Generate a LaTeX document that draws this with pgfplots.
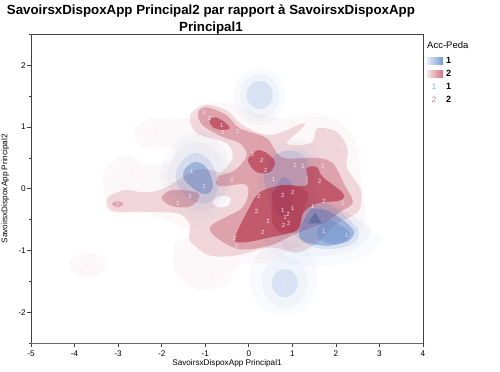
\documentclass[border=0pt]{standalone}
\usepackage{fontspec}
\setmainfont{Liberation Sans}
\usepackage{pgfplots}
\pgfplotsset{compat=1.18}
\usetikzlibrary{plotmarks}
\definecolor{rd}{HTML}{B02A40}
\definecolor{bl}{HTML}{2A62B8}
\definecolor{lab}{HTML}{F6E4E7}
\definecolor{axc}{HTML}{404040}
\pgfplotsset{
 r1/.style={smooth cycle,tension=.55,draw=none,fill=rd,fill opacity=.04,mark=none},
 r2/.style={smooth cycle,tension=.55,draw=none,fill=rd,fill opacity=.16,mark=none},
 r3/.style={smooth cycle,tension=.55,draw=none,fill=rd,fill opacity=.3,mark=none},
 r4/.style={smooth cycle,tension=.55,draw=none,fill=rd,fill opacity=.6,mark=none},
 r5/.style={smooth cycle,tension=.55,draw=none,fill=rd,fill opacity=.35,mark=none},
 b1/.style={smooth cycle,tension=.7,draw=none,fill=bl,fill opacity=.03,mark=none},
 b2/.style={smooth cycle,tension=.7,draw=none,fill=bl,fill opacity=.04,mark=none},
 b3/.style={smooth cycle,tension=.7,draw=none,fill=bl,fill opacity=.12,mark=none},
 b4/.style={smooth cycle,tension=.7,draw=none,fill=bl,fill opacity=.33,mark=none},
 b5/.style={smooth cycle,tension=.7,draw=none,fill=bl,fill opacity=.2,mark=none},
}
\begin{document}
\begin{tikzpicture}[x=1bp,y=1bp]
\path[use as bounding box] (-31,-28) rectangle (469,343);
\begin{axis}[
 at={(0,0)},anchor=south west,scale only axis,width=392bp,height=308.5bp,
 xmin=-5,xmax=4,ymin=-2.5,ymax=2.5,
 axis line style={color=axc,line width=.7pt},
 tick style={color=axc,line width=.6pt},
 tick align=outside,xtick pos=bottom,ytick pos=left,
 major tick length=4bp,minor tick length=2.5bp,
 xtick={-5,-4,-3,-2,-1,0,1,2,3,4},xticklabels={-5,-4,-3,-2,-1,0,1,2,3,4},
 ytick={-2,-1,0,1,2},yticklabels={-2,-1,0,1,2},
 minor ytick={-2.5,-1.5,-.5,.5,1.5,2.5},
 ticklabel style={font=\fontsize{8.2bp}{9bp}\selectfont,inner sep=1bp},
 xticklabel style={yshift=-2.5bp},
 xlabel={SavoirsxDispoxApp Principal1},ylabel={SavoirsxDispoxApp Principal2},
 label style={font=\fontsize{8.2bp}{9bp}\selectfont},
 xlabel style={yshift=1bp},ylabel style={yshift=5bp},
 title style={align=center,font=\bfseries\fontsize{13.3bp}{17bp}\selectfont,at={(0.459,1)},yshift=-9.5bp},
 title={SavoirsxDispoxApp Principal2 par rapport à SavoirsxDispoxApp\\Principal1},
]
% red density levels
\addplot[r1] coordinates {(-1.19,1.14)(-1.01,1.36)(-.48,1.39)(.14,1.23)(.83,1.14)(1.52,1.23)(2.2,1.03)(2.5,.62)(2.6,-.02)(2.66,-.51)(2.2,-.84)(1.52,-.84)(.94,-1.0)(.44,-1.19)(-.21,-1.24)(-.55,-1.57)(-1.24,-1.62)(-1.7,-1.32)(-1.7,-.92)(-1.35,-.71)(-1.93,-.51)(-2.5,-.35)(-3,-.43)(-3.3,-.1)(-3.3,.3)(-2.85,.54)(-2.27,.38)(-1.81,.46)(-1.7,.62)(-1.93,.66)(-2.5,.7)(-2.62,.95)(-2.27,1.14)(-1.7,1.14)};
\addplot[r1] coordinates {(-3.26,-1.24)(-3.39,-1.1)(-3.7,-1.04)(-4.01,-1.1)(-4.14,-1.24)(-4.01,-1.38)(-3.7,-1.44)(-3.39,-1.38)};
\addplot[r2] coordinates {(-1.35,1.19)(-1.01,1.36)(-.51,1.27)(-.14,1.03)(.48,.87)(1.24,1.06)(1.22,.98)(.87,.75)(1.06,.71)(1.45,.75)(1.58,.98)(2.02,.92)(2.27,.65)(2.25,.35)(2.55,.02)(2.59,-.14)(2.5,-.38)(1.97,-.59)(1.56,-.88)(1.1,-1.03)(.48,-.95)(-.28,-1.08)(-.9,-1.08)(-1.35,-.84)(-1.35,-.59)(-1.58,-.41)(-2.04,-.38)(-2.62,-.38)(-3.19,-.35)(-3.24,-.15)(-2.85,-.02)(-2.39,-.06)(-1.93,.01)(-1.24,.3)(-.85,.3)(-.62,.27)(-.37,.51)(-.51,.74)(-1.19,.9)};
\addplot[r3] coordinates {(-1.17,1.24)(-.96,1.32)(-.51,1.19)(-.21,.98)(.41,.82)(.76,.51)(1.56,.5)(1.93,.41)(2.2,.06)(2.39,-.22)(2.09,-.38)(1.75,-.54)(1.1,-.72)(.48,-.92)(-.28,-.97)(-.9,-.64)(-.14,-.3)(-.05,.06)(-.67,.04)(-.73,.19)(-.32,.3)(-.05,.54)(-.21,.74)(-.6,.84)(-1.06,1.03)};
\addplot[r3] coordinates {(-2,-.14)(-1.75,-.02)(-1.19,-.06)(-1.17,-.19)(-1.42,-.3)(-1.81,-.27)};
\addplot[r3] coordinates {(-2.88,-.25)(-3.01,-.2)(-3.14,-.25)(-3.01,-.3)};
% hole
\addplot[smooth cycle,draw=none,fill=white,fill opacity=.85,mark=none] coordinates {(-.83,-.22)(-.7,-.13)(-.5,-.12)(-.41,-.18)(-.5,-.28)(-.7,-.3)};
% blue density levels
\addplot[b1] coordinates {(.85,1.5)(.67,1.83)(.25,1.97)(-.17,1.83)(-.35,1.5)(-.17,1.17)(.25,1.03)(.67,1.17)};
\addplot[b2] coordinates {(.7,1.5)(.57,1.76)(.25,1.86)(-.07,1.76)(-.2,1.5)(-.07,1.24)(.25,1.14)(.57,1.24)};
\addplot[b3] coordinates {(.55,1.52)(.46,1.68)(.25,1.75)(.04,1.68)(-.05,1.52)(.04,1.36)(.25,1.29)(.46,1.36)};
\addplot[b1] coordinates {(-2.04,.2)(-1.7,.72)(-1.2,.9)(-.65,.72)(-.39,.15)(-.65,-.32)(-1.15,-.51)(-1.7,-.3)};
\addplot[b2] coordinates {(-1.88,.2)(-1.6,.62)(-1.18,.75)(-.75,.6)(-.5,.15)(-.7,-.22)(-1.15,-.38)(-1.6,-.2)};
\addplot[b3] coordinates {(-1.68,.2)(-1.5,.48)(-1.18,.58)(-.86,.42)(-.71,.1)(-.8,-.15)(-1.1,-.24)(-1.5,-.08)};
\addplot[b4] coordinates {(-1.51,.2)(-1.4,.37)(-1.18,.43)(-.96,.33)(-.83,.1)(-.88,-.05)(-1.05,-.08)(-1.3,.02)};
\addplot[b1] coordinates {(1.58,-1.45)(1.35,-1.02)(.8,-.84)(.25,-1.02)(.02,-1.45)(.25,-1.88)(.8,-2.05)(1.35,-1.88)};
\addplot[b2] coordinates {(1.35,-1.5)(1.2,-1.2)(.83,-1.08)(.46,-1.2)(.3,-1.5)(.46,-1.8)(.83,-1.94)(1.2,-1.8)};
\addplot[b3] coordinates {(1.13,-1.53)(1.04,-1.37)(.83,-1.3)(.62,-1.37)(.53,-1.53)(.62,-1.69)(.83,-1.76)(1.04,-1.69)};
\addplot[b1] coordinates {(.78,.74)(1.4,.75)(1.63,.46)(1.63,-.11)(2.2,-.35)(2.89,-.67)(2.96,-.92)(2.32,-1.19)(1.17,-1.24)(.48,-1.0)(.21,-.19)(.3,.38)};
\addplot[b2] coordinates {(.87,.62)(1.29,.62)(1.52,.38)(1.52,-.11)(1.97,-.27)(2.66,-.59)(2.73,-.8)(2.2,-1.03)(1.17,-1.08)(.71,-.84)(.48,-.27)(.37,.3)};
\addplot[b3] coordinates {(.37,.09)(.48,.46)(.94,.62)(1.33,.46)(1.29,.09)(1.35,-.19)(1.86,-.27)(2.43,-.59)(2.5,-.8)(2.16,-.95)(1.52,-.95)(1.06,-.75)(.71,-.43)};
\addplot[b4] coordinates {(1.35,-.4)(1.56,-.32)(1.93,-.4)(2.37,-.64)(2.37,-.79)(2.16,-.88)(1.7,-.92)(1.17,-.79)};
\addplot[b5] coordinates {(1.79,-.51)(2.16,-.62)(2.32,-.72)(2.16,-.87)(1.79,-.88)(1.56,-.72)};
\addplot[b5] coordinates {(.67,.09)(.83,.19)(1.01,.02)(.94,-.35)(.67,-.43)(.53,-.11)};
% dense red over the blue
\addplot[r4] coordinates {(-.32,-.8)(-.02,-.35)(.25,-.06)(.78,.06)(1.33,.06)(1.33,.33)(1.56,.35)(1.7,.19)(2.16,-.07)(2.09,-.19)(1.56,-.24)(1.24,-.4)(1.1,-.67)(.48,-.79)(-.14,-.87)};
\addplot[r4] coordinates {(-.02,.46)(.18,.62)(.41,.58)(.6,.43)(.48,.27)(.18,.27)};
\addplot[r4] coordinates {(-.9,1.11)(-.78,1.16)(-.55,1.08)(-.44,.98)(-.6,.95)(-.83,1.0)};
\addplot[r5] coordinates {(.53,-.14)(.64,.02)(.87,.06)(1.35,-.06)(1.24,-.4)(1.13,-.67)(.78,-.72)(.55,-.56)};
\addplot[draw=none,fill=axc!30!bl,fill opacity=.45,mark=none] coordinates {(1.36,-.56)(1.52,-.38)(1.68,-.56)} --cycle;
% points
\addplot[only marks,mark=text,text mark={1},text mark as node,
 text mark style={font=\fontsize{6bp}{6bp}\selectfont,text=lab,inner sep=0pt}] coordinates {(-.62,1.03)(-1.31,.28)(-1.03,.04)(1.06,.37)(.57,.15)(.78,-.35)(1.01,-.32)(.83,-.46)(1.47,-.28)(1.72,-.69)(2.25,-.75)(.25,1.5)(.83,-1.55)};
\addplot[only marks,mark=text,text mark={2},text mark as node,
 text mark style={font=\fontsize{6bp}{6bp}\selectfont,text=lab,inner sep=0pt}] coordinates {(-1.03,1.23)(-.9,1.14)(-.6,.92)(-.25,.93)(-2.14,.92)(-2.69,.3)(1.01,1.06)(1.79,.92)(2.16,.67)(.09,.56)(.3,.46)(.39,.3)(1.24,.37)(1.7,.37)(1.63,.12)(-.73,.15)(-.39,.14)(-1.35,-.12)(-1.63,-.24)(.23,-.12)(.78,-.11)(1.01,-.06)(1.72,-.2)(2.16,-.24)(.18,-.37)(.44,-.53)(.9,-.41)(.8,-.59)(.92,-.56)(.32,-.71)(-1.17,-.66)(-.32,-.8)(-.28,-.93)(-.85,-1.37)(2.32,-.02)(-3.7,-1.24)(-3.01,-.25)};
\end{axis}
\draw[color=axc!80,line width=1pt] (0,0)--(392,0);
% legend
\node[anchor=west,inner sep=0pt,font=\fontsize{9.5bp}{10bp}\selectfont] at (396,298) {Acc-Peda};
\shade[left color=bl!12,right color=bl!65] (396,279) rectangle (412,286);
\shade[left color=rd!12,right color=rd!65] (396,266) rectangle (412,273);
\node[anchor=west,inner sep=0pt,font=\bfseries\fontsize{9bp}{10bp}\selectfont] at (415,282.5) {1};
\node[anchor=west,inner sep=0pt,font=\bfseries\fontsize{9bp}{10bp}\selectfont] at (415,269.5) {2};
\node[inner sep=0pt,font=\fontsize{8bp}{10bp}\selectfont,text=bl!55] at (403,256.5) {1};
\node[inner sep=0pt,font=\fontsize{8bp}{10bp}\selectfont,text=rd!60] at (403,243.5) {2};
\node[anchor=west,inner sep=0pt,font=\bfseries\fontsize{9bp}{10bp}\selectfont] at (415,256.5) {1};
\node[anchor=west,inner sep=0pt,font=\bfseries\fontsize{9bp}{10bp}\selectfont] at (415,243.5) {2};
\end{tikzpicture}
\end{document}
